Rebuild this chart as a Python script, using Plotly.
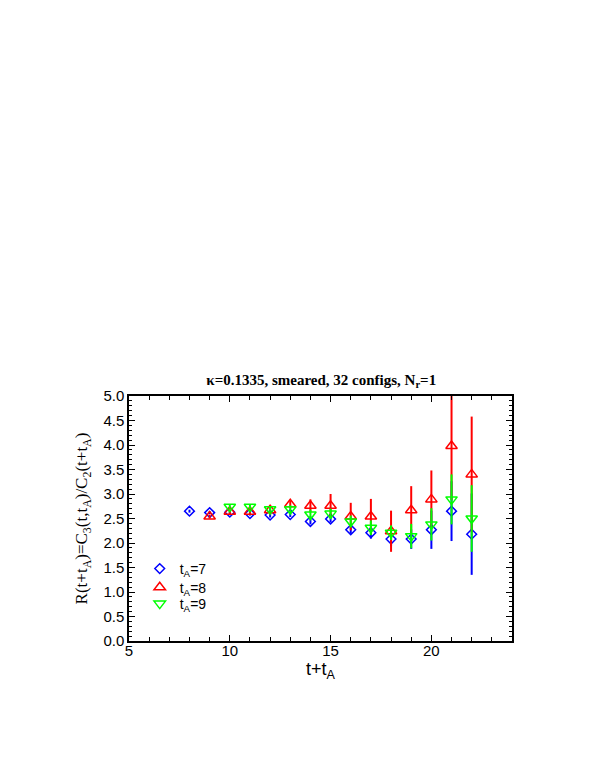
import plotly.graph_objects as go

x7 = [8, 9, 10, 11, 12, 13, 14, 15, 16, 17, 18, 19, 20, 21, 22]
y7 = [2.65, 2.62, 2.63, 2.60, 2.57, 2.58, 2.44, 2.49, 2.27, 2.21, 2.08, 2.08, 2.27, 2.65, 2.18]
e7 = [0.03, 0.03, 0.04, 0.04, 0.05, 0.05, 0.06, 0.07, 0.08, 0.12, 0.15, 0.20, 0.39, 0.61, 0.83]

x8 = [9, 10, 11, 12, 13, 14, 15, 16, 17, 18, 19, 20, 21, 22]
y8 = [2.54, 2.64, 2.64, 2.67, 2.79, 2.76, 2.76, 2.54, 2.54, 2.24, 2.67, 2.89, 3.98, 3.40]
e8 = [0.04, 0.05, 0.06, 0.10, 0.08, 0.13, 0.24, 0.28, 0.36, 0.42, 0.49, 0.59, 1.10, 1.18]

x9 = [10, 11, 12, 13, 14, 15, 16, 17, 18, 19, 20, 21, 22]
y9 = [2.74, 2.74, 2.69, 2.69, 2.58, 2.60, 2.44, 2.31, 2.21, 2.14, 2.38, 2.89, 2.50]
e9 = [0.05, 0.05, 0.06, 0.08, 0.10, 0.10, 0.12, 0.15, 0.15, 0.25, 0.33, 0.51, 0.68]

series = [
    ("t<sub>A</sub>=7", x7, y7, e7, "#0000ff", "diamond-open", 7.5, "legend"),
    ("t<sub>A</sub>=8", x8, y8, e8, "#ff0000", "triangle-up-open", 10, "legend2"),
    ("t<sub>A</sub>=9", x9, y9, e9, "#00ff00", "triangle-down-open", 10, "legend3"),
]

fig = go.Figure()
for name, xs, ys, es, col, sym, sz, leg in series:
    fig.add_trace(go.Scatter(
        x=xs, y=ys, mode="markers", name=name, legend=leg,
        marker=dict(symbol=sym, size=sz, color=col, line=dict(width=1.5, color=col)),
        error_y=dict(type="data", array=es, visible=True, color=col, thickness=2, width=0),
    ))

sans = "Liberation Sans, Arial, sans-serif"
serif = "Liberation Serif, Times New Roman, serif"

axis_common = dict(
    showgrid=False, zeroline=False, showline=True, linecolor="black", linewidth=1.5,
    mirror="allticks", ticks="inside", tickcolor="black", tickwidth=1, automargin=False,
    tickfont=dict(family=sans, size=15, color="black"),
)

fig.update_xaxes(
    range=[5, 24], dtick=5, tick0=5, ticklen=6, ticklabelstandoff=-5,
    minor=dict(dtick=1, ticks="inside", ticklen=4, tickcolor="black", tickwidth=1),
    title=dict(text="t+t<sub>A</sub>", font=dict(family=sans, size=18, color="black"), standoff=0),
    **axis_common,
)
fig.update_yaxes(
    range=[0, 5], dtick=0.5, tick0=0, tickformat=".1f", ticklen=6,
    minor=dict(dtick=0.1, ticks="inside", ticklen=3, tickcolor="black", tickwidth=1),
    title=dict(text="R(t+t<sub>A</sub>)=C<sub>3</sub>(t,t<sub>A</sub>)/C<sub>2</sub>(t+t<sub>A</sub>)",
               font=dict(family=serif, size=17, color="black"), standoff=11),
    **axis_common,
)

leg_common = dict(x=0.028, xanchor="left", yanchor="middle", bgcolor="rgba(0,0,0,0)",
                  font=dict(family=sans, size=14, color="black"), itemwidth=30)

# page body has an 8px default margin; figure sized/offset to compensate
fig.update_layout(
    width=591, height=768,
    margin=dict(l=121, r=87, t=388, b=135),
    paper_bgcolor="white", plot_bgcolor="white",
    title=dict(text="<b>κ=0.1335, smeared, 32 configs, N<sub>r</sub>=1</b>",
               font=dict(family=serif, size=15, color="black"),
               x=0.530, xanchor="center", y=1 - 372 / 768, yanchor="middle"),
    legend=dict(y=0.294, **leg_common),
    legend2=dict(y=0.218, **leg_common),
    legend3=dict(y=0.151, **leg_common),
    showlegend=True,
)

fig.write_html("out.html")
